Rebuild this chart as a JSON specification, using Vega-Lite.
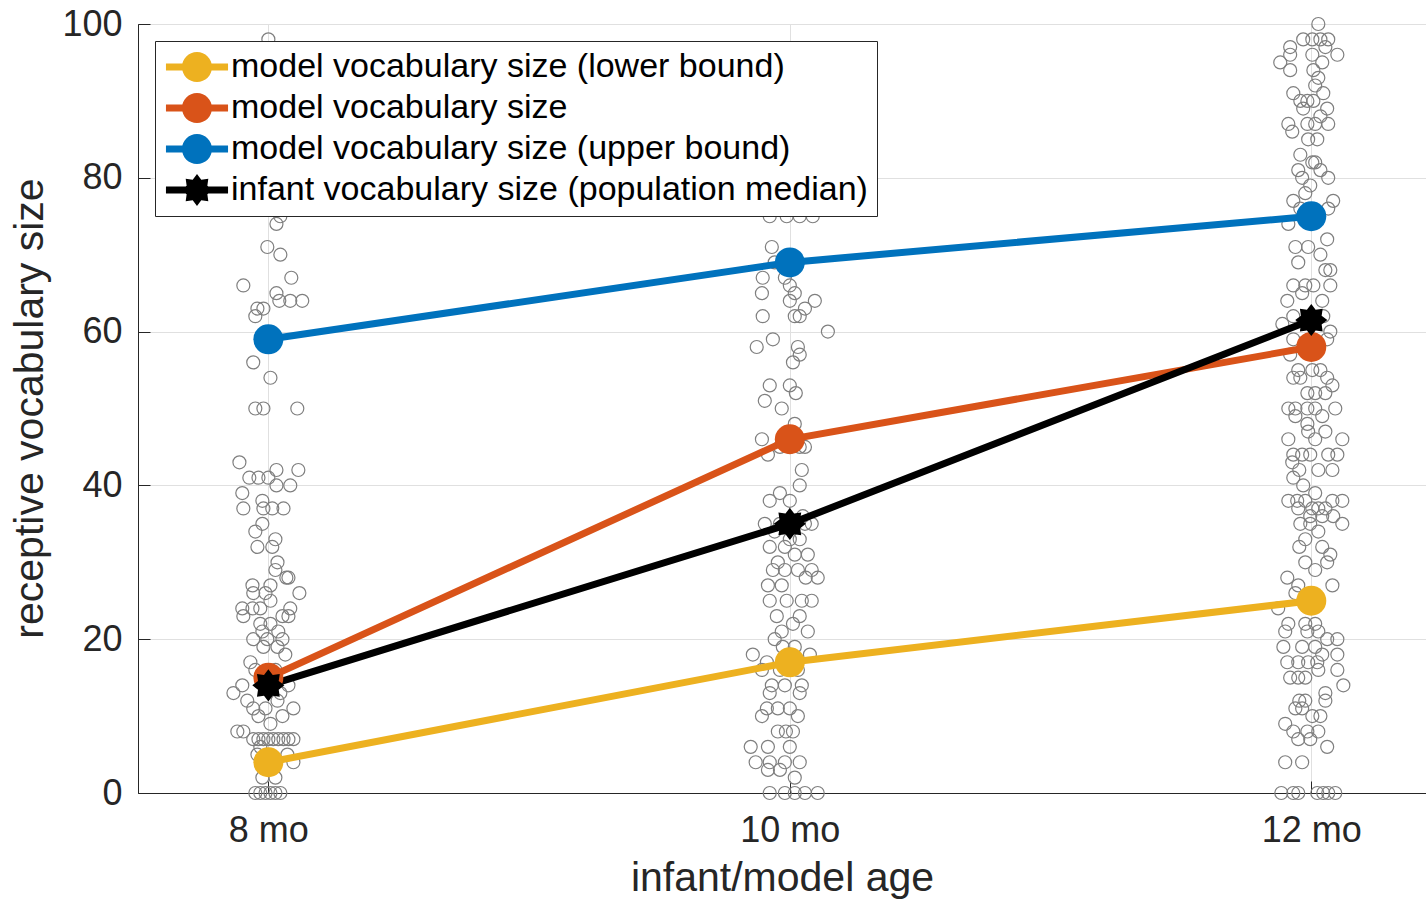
{
  "$schema": "https://vega.github.io/schema/vega-lite/v6.json",
  "width": 1288,
  "height": 769,
  "autosize": {"type": "none"},
  "padding": {"left": 138, "top": 24, "right": 0, "bottom": 108},
  "background": "white",
  "config": {
    "font": "Liberation Sans",
    "view": {"stroke": "#262626", "strokeWidth": 1},
    "axis": {
      "labelFont": "Liberation Sans",
      "titleFont": "Liberation Sans",
      "labelColor": "#262626",
      "titleColor": "#262626",
      "domainColor": "#262626",
      "tickColor": "#262626",
      "gridColor": "#e0e0e0",
      "gridWidth": 1,
      "labelFlush": false,
      "labelOverlap": false,
      "titleFontWeight": "normal"
    }
  },
  "datasets": {
    "kids": [
      {"age":8.000,"vocab":98},{"age":8.046,"vocab":75},{"age":8.096,"vocab":76},{"age":8.031,"vocab":74},{"age":7.996,"vocab":71},{"age":8.046,"vocab":70},{"age":8.088,"vocab":67},{"age":7.904,"vocab":66},{"age":8.031,"vocab":65},{"age":8.042,"vocab":64},{"age":8.084,"vocab":64},{"age":8.13,"vocab":64},{"age":7.958,"vocab":63},{"age":7.95,"vocab":62},{"age":7.981,"vocab":63},{"age":7.942,"vocab":56},{"age":8.008,"vocab":54},{"age":7.95,"vocab":50},{"age":7.981,"vocab":50},{"age":8.111,"vocab":50},{"age":7.889,"vocab":43},{"age":7.927,"vocab":41},{"age":7.962,"vocab":41},{"age":8.0,"vocab":41},{"age":8.031,"vocab":42},{"age":8.115,"vocab":42},{"age":8.031,"vocab":40},{"age":8.084,"vocab":40},{"age":7.9,"vocab":39},{"age":7.904,"vocab":37},{"age":7.977,"vocab":38},{"age":7.981,"vocab":37},{"age":8.015,"vocab":37},{"age":8.058,"vocab":37},{"age":7.977,"vocab":35},{"age":7.95,"vocab":34},{"age":8.027,"vocab":33},{"age":7.958,"vocab":32},{"age":8.015,"vocab":32},{"age":8.035,"vocab":30},{"age":8.027,"vocab":29},{"age":8.069,"vocab":28},{"age":8.077,"vocab":28},{"age":7.939,"vocab":27},{"age":8.008,"vocab":27},{"age":7.942,"vocab":26},{"age":7.989,"vocab":26},{"age":8.119,"vocab":26},{"age":7.9,"vocab":24},{"age":7.939,"vocab":24},{"age":7.969,"vocab":24},{"age":8.008,"vocab":25},{"age":8.084,"vocab":24},{"age":7.904,"vocab":23},{"age":8.054,"vocab":23},{"age":8.077,"vocab":23},{"age":7.969,"vocab":22},{"age":8.008,"vocab":22},{"age":7.977,"vocab":21},{"age":8.038,"vocab":21},{"age":7.942,"vocab":20},{"age":7.996,"vocab":20},{"age":8.054,"vocab":20},{"age":7.981,"vocab":19},{"age":8.035,"vocab":19},{"age":7.931,"vocab":17},{"age":8.065,"vocab":18},{"age":7.866,"vocab":13},{"age":7.9,"vocab":14},{"age":8.077,"vocab":14},{"age":7.919,"vocab":12},{"age":7.942,"vocab":11},{"age":7.989,"vocab":11},{"age":8.035,"vocab":12},{"age":8.096,"vocab":11},{"age":8.054,"vocab":10},{"age":7.881,"vocab":8},{"age":7.904,"vocab":8},{"age":7.942,"vocab":7},{"age":7.962,"vocab":7},{"age":7.981,"vocab":7},{"age":8.0,"vocab":7},{"age":8.019,"vocab":7},{"age":8.038,"vocab":7},{"age":8.058,"vocab":7},{"age":8.077,"vocab":7},{"age":8.096,"vocab":7},{"age":7.958,"vocab":5},{"age":8.073,"vocab":5},{"age":8.096,"vocab":4},{"age":7.95,"vocab":0},{"age":7.969,"vocab":0},{"age":7.989,"vocab":0},{"age":8.008,"vocab":0},{"age":8.027,"vocab":0},{"age":8.046,"vocab":0},{"age":7.95,"vocab":16},{"age":8.027,"vocab":16},{"age":7.977,"vocab":15},{"age":8.046,"vocab":13},{"age":7.962,"vocab":10},{"age":8.008,"vocab":9},{"age":7.969,"vocab":6},{"age":8.027,"vocab":2},{"age":7.977,"vocab":2},
      {"age":9.923,"vocab":75},{"age":9.988,"vocab":75},{"age":10.038,"vocab":75},{"age":10.088,"vocab":75},{"age":9.931,"vocab":71},{"age":9.942,"vocab":69},{"age":9.896,"vocab":67},{"age":9.981,"vocab":67},{"age":10.0,"vocab":66},{"age":9.893,"vocab":65},{"age":10.019,"vocab":65},{"age":10.0,"vocab":64},{"age":10.058,"vocab":63},{"age":10.096,"vocab":64},{"age":9.896,"vocab":62},{"age":10.019,"vocab":62},{"age":10.038,"vocab":62},{"age":10.146,"vocab":60},{"age":9.935,"vocab":59},{"age":9.873,"vocab":58},{"age":10.031,"vocab":58},{"age":10.038,"vocab":57},{"age":10.012,"vocab":56},{"age":9.923,"vocab":53},{"age":10.0,"vocab":53},{"age":10.023,"vocab":52},{"age":9.904,"vocab":51},{"age":9.969,"vocab":50},{"age":10.019,"vocab":48},{"age":9.893,"vocab":46},{"age":9.962,"vocab":45},{"age":10.0,"vocab":45},{"age":10.038,"vocab":45},{"age":10.058,"vocab":45},{"age":9.916,"vocab":44},{"age":10.046,"vocab":42},{"age":10.038,"vocab":40},{"age":9.962,"vocab":39},{"age":9.923,"vocab":38},{"age":10.0,"vocab":38},{"age":10.05,"vocab":36},{"age":9.904,"vocab":35},{"age":9.962,"vocab":35},{"age":10.019,"vocab":35},{"age":10.058,"vocab":35},{"age":10.084,"vocab":35},{"age":9.942,"vocab":34},{"age":10.0,"vocab":33},{"age":10.038,"vocab":33},{"age":9.923,"vocab":32},{"age":9.981,"vocab":32},{"age":9.954,"vocab":30},{"age":10.019,"vocab":31},{"age":10.069,"vocab":31},{"age":9.935,"vocab":29},{"age":9.981,"vocab":29},{"age":10.031,"vocab":29},{"age":10.084,"vocab":29},{"age":9.916,"vocab":27},{"age":9.969,"vocab":27},{"age":10.061,"vocab":28},{"age":10.107,"vocab":28},{"age":9.923,"vocab":25},{"age":9.988,"vocab":25},{"age":10.046,"vocab":25},{"age":10.084,"vocab":25},{"age":9.95,"vocab":23},{"age":10.038,"vocab":23},{"age":9.969,"vocab":21},{"age":10.012,"vocab":22},{"age":10.069,"vocab":21},{"age":9.942,"vocab":20},{"age":9.973,"vocab":19},{"age":10.019,"vocab":19},{"age":10.0,"vocab":18},{"age":10.077,"vocab":18},{"age":9.858,"vocab":18},{"age":9.912,"vocab":17},{"age":9.893,"vocab":16},{"age":9.962,"vocab":16},{"age":10.031,"vocab":16},{"age":9.931,"vocab":14},{"age":9.981,"vocab":14},{"age":10.046,"vocab":14},{"age":9.923,"vocab":13},{"age":10.038,"vocab":13},{"age":9.954,"vocab":11},{"age":9.912,"vocab":11},{"age":10.0,"vocab":11},{"age":9.893,"vocab":10},{"age":10.031,"vocab":10},{"age":9.954,"vocab":8},{"age":9.985,"vocab":8},{"age":10.012,"vocab":8},{"age":9.85,"vocab":6},{"age":9.916,"vocab":6},{"age":10.0,"vocab":6},{"age":9.869,"vocab":4},{"age":9.923,"vocab":4},{"age":9.981,"vocab":4},{"age":10.038,"vocab":4},{"age":9.916,"vocab":3},{"age":9.962,"vocab":3},{"age":10.019,"vocab":2},{"age":9.923,"vocab":0},{"age":9.981,"vocab":0},{"age":10.019,"vocab":0},{"age":10.058,"vocab":0},{"age":10.107,"vocab":0},
      {"age":12.027,"vocab":100},{"age":11.969,"vocab":98},{"age":12.004,"vocab":98},{"age":12.035,"vocab":98},{"age":12.065,"vocab":98},{"age":11.919,"vocab":97},{"age":12.054,"vocab":97},{"age":12.1,"vocab":96},{"age":11.881,"vocab":95},{"age":11.919,"vocab":96},{"age":12.004,"vocab":96},{"age":12.042,"vocab":95},{"age":11.919,"vocab":94},{"age":12.008,"vocab":94},{"age":12.027,"vocab":93},{"age":12.015,"vocab":92},{"age":11.931,"vocab":91},{"age":12.046,"vocab":91},{"age":11.958,"vocab":90},{"age":11.985,"vocab":90},{"age":12.008,"vocab":90},{"age":11.969,"vocab":89},{"age":12.061,"vocab":89},{"age":12.035,"vocab":88},{"age":11.912,"vocab":87},{"age":11.927,"vocab":86},{"age":11.985,"vocab":87},{"age":12.015,"vocab":87},{"age":12.065,"vocab":87},{"age":11.988,"vocab":85},{"age":12.023,"vocab":85},{"age":11.958,"vocab":83},{"age":12.004,"vocab":82},{"age":12.015,"vocab":82},{"age":11.95,"vocab":81},{"age":12.035,"vocab":81},{"age":12.065,"vocab":80},{"age":11.965,"vocab":80},{"age":11.996,"vocab":79},{"age":11.931,"vocab":77},{"age":11.977,"vocab":78},{"age":12.084,"vocab":77},{"age":12.065,"vocab":76},{"age":11.958,"vocab":76},{"age":11.912,"vocab":74},{"age":12.061,"vocab":72},{"age":11.939,"vocab":71},{"age":11.988,"vocab":71},{"age":12.035,"vocab":70},{"age":11.95,"vocab":69},{"age":12.054,"vocab":68},{"age":12.073,"vocab":68},{"age":11.931,"vocab":66},{"age":11.977,"vocab":66},{"age":12.008,"vocab":66},{"age":12.073,"vocab":66},{"age":11.965,"vocab":65},{"age":11.908,"vocab":64},{"age":12.042,"vocab":64},{"age":11.931,"vocab":62},{"age":12.046,"vocab":62},{"age":11.889,"vocab":61},{"age":12.073,"vocab":60},{"age":11.931,"vocab":59},{"age":12.061,"vocab":59},{"age":11.919,"vocab":57},{"age":11.95,"vocab":55},{"age":12.004,"vocab":55},{"age":12.035,"vocab":55},{"age":11.931,"vocab":54},{"age":11.958,"vocab":54},{"age":12.061,"vocab":54},{"age":12.081,"vocab":53},{"age":11.985,"vocab":52},{"age":12.015,"vocab":52},{"age":12.054,"vocab":52},{"age":11.912,"vocab":50},{"age":11.939,"vocab":50},{"age":11.985,"vocab":50},{"age":12.015,"vocab":50},{"age":12.092,"vocab":50},{"age":11.939,"vocab":49},{"age":12.042,"vocab":49},{"age":11.985,"vocab":48},{"age":11.912,"vocab":46},{"age":12.119,"vocab":46},{"age":11.988,"vocab":47},{"age":12.054,"vocab":47},{"age":12.015,"vocab":46},{"age":11.931,"vocab":44},{"age":11.965,"vocab":44},{"age":11.996,"vocab":44},{"age":12.065,"vocab":44},{"age":12.1,"vocab":44},{"age":11.927,"vocab":43},{"age":11.954,"vocab":42},{"age":12.027,"vocab":42},{"age":12.081,"vocab":42},{"age":11.931,"vocab":41},{"age":11.969,"vocab":40},{"age":12.015,"vocab":39},{"age":11.912,"vocab":38},{"age":11.946,"vocab":38},{"age":11.977,"vocab":38},{"age":12.004,"vocab":37},{"age":12.027,"vocab":37},{"age":12.054,"vocab":37},{"age":12.081,"vocab":38},{"age":12.119,"vocab":38},{"age":11.95,"vocab":37},{"age":11.996,"vocab":36},{"age":12.042,"vocab":36},{"age":12.084,"vocab":36},{"age":12.119,"vocab":35},{"age":11.958,"vocab":35},{"age":11.996,"vocab":35},{"age":12.027,"vocab":34},{"age":11.977,"vocab":33},{"age":11.954,"vocab":32},{"age":12.042,"vocab":32},{"age":12.073,"vocab":31},{"age":11.977,"vocab":30},{"age":12.061,"vocab":30},{"age":12.015,"vocab":29},{"age":11.908,"vocab":28},{"age":11.95,"vocab":27},{"age":12.081,"vocab":27},{"age":11.939,"vocab":26},{"age":11.873,"vocab":24},{"age":11.912,"vocab":22},{"age":11.977,"vocab":22},{"age":12.015,"vocab":22},{"age":11.9,"vocab":21},{"age":11.985,"vocab":21},{"age":12.027,"vocab":21},{"age":12.061,"vocab":20},{"age":12.1,"vocab":20},{"age":11.893,"vocab":19},{"age":11.965,"vocab":19},{"age":12.015,"vocab":19},{"age":12.042,"vocab":18},{"age":12.1,"vocab":18},{"age":11.908,"vocab":17},{"age":11.95,"vocab":17},{"age":11.988,"vocab":17},{"age":12.023,"vocab":17},{"age":11.919,"vocab":15},{"age":11.95,"vocab":15},{"age":11.977,"vocab":15},{"age":12.027,"vocab":16},{"age":12.1,"vocab":16},{"age":12.123,"vocab":14},{"age":12.054,"vocab":13},{"age":11.954,"vocab":12},{"age":11.977,"vocab":12},{"age":12.054,"vocab":12},{"age":11.939,"vocab":11},{"age":11.965,"vocab":11},{"age":12.004,"vocab":10},{"age":12.035,"vocab":10},{"age":11.9,"vocab":9},{"age":11.931,"vocab":8},{"age":11.985,"vocab":8},{"age":12.027,"vocab":8},{"age":11.95,"vocab":7},{"age":11.996,"vocab":7},{"age":12.061,"vocab":6},{"age":11.9,"vocab":4},{"age":11.965,"vocab":4},{"age":11.885,"vocab":0},{"age":11.931,"vocab":0},{"age":11.95,"vocab":0},{"age":12.023,"vocab":0},{"age":12.046,"vocab":0},{"age":12.065,"vocab":0},{"age":12.092,"vocab":0}
    ],
    "model": [
      {"series":"model vocabulary size (lower bound)","age":8,"vocab":4},
      {"series":"model vocabulary size (lower bound)","age":10,"vocab":17},
      {"series":"model vocabulary size (lower bound)","age":12,"vocab":25},
      {"series":"model vocabulary size","age":8,"vocab":15},
      {"series":"model vocabulary size","age":10,"vocab":46},
      {"series":"model vocabulary size","age":12,"vocab":58},
      {"series":"model vocabulary size (upper bound)","age":8,"vocab":59},
      {"series":"model vocabulary size (upper bound)","age":10,"vocab":69},
      {"series":"model vocabulary size (upper bound)","age":12,"vocab":75},
      {"series":"infant vocabulary size (population median)","age":8,"vocab":14},
      {"series":"infant vocabulary size (population median)","age":10,"vocab":35},
      {"series":"infant vocabulary size (population median)","age":12,"vocab":61.5}
    ]
  },
  "layer": [
    {
      "data": {"name": "kids"},
      "mark": {"type": "point", "filled": false, "stroke": "#7f7f7f", "strokeWidth": 1.2, "size": 169, "opacity": 1},
      "encoding": {
        "x": {"field": "age", "type": "quantitative", "scale": {"domain": [7.5, 12.44], "nice": false, "zero": false},
          "axis": {"values": [8, 10, 12], "labelExpr": "datum.value + ' mo'", "grid": true, "tickSize": -12, "labelPadding": 32, "labelFontSize": 36,
            "title": "infant/model age", "titleFontSize": 41, "titleY": 97, "titleBaseline": "alphabetic"}},
        "y": {"field": "vocab", "type": "quantitative", "scale": {"domain": [0, 100], "nice": false},
          "axis": {"values": [0, 20, 40, 60, 80, 100], "grid": true, "tickSize": -12, "labelPadding": 28, "labelFontSize": 36,
            "title": "receptive vocabulary size", "titleFontSize": 41, "titleAngle": -90, "titleX": -96, "titleY": 384, "titleBaseline": "alphabetic", "titleAlign": "center"}}
      }
    },
    {
      "data": {"name": "model"},
      "mark": {"type": "line", "strokeWidth": 7},
      "encoding": {
        "x": {"field": "age", "type": "quantitative"},
        "y": {"field": "vocab", "type": "quantitative"},
        "color": {"field": "series", "type": "nominal",
          "scale": {"domain": ["model vocabulary size (lower bound)", "model vocabulary size", "model vocabulary size (upper bound)", "infant vocabulary size (population median)"],
                    "range": ["#EDB120", "#D95319", "#0072BD", "#000000"]},
          "legend": {"orient": "top-left", "offset": 17, "title": null, "labelFontSize": 34, "labelFont": "Liberation Sans", "labelColor": "#000000",
            "symbolSize": 1024, "labelOffset": 33, "padding": 9, "rowPadding": 7, "strokeColor": "#262626", "fillColor": "white", "cornerRadius": 0, "labelLimit": 1000,
            "encode": {"symbols": {"update": {
              "shape": {"signal": "datum.value === 'infant vocabulary size (population median)' ? 'M-0.94,-0.22H0.3V0.22H-0.94Z M1.7,-0.22H2.94V0.22H1.7Z M2,0L1.647,0.268L1.707,0.707L1.268,0.647L1,1L0.732,0.647L0.293,0.707L0.353,0.268L0,0L0.353,-0.268L0.293,-0.707L0.732,-0.647L1,-1L1.268,-0.647L1.707,-0.707L1.647,-0.268Z' : 'M-0.94,-0.22H0.2V0.22H-0.94Z M1.8,-0.22H2.94V0.22H1.8Z M0.06,0A0.94,0.94 0 1 1 1.94,0A0.94,0.94 0 1 1 0.06,0Z'"},
              "fill": {"scale": "color", "field": "value"},
              "stroke": {"value": "transparent"},
              "strokeWidth": {"value": 0},
              "opacity": {"value": 1},
              "fillOpacity": {"value": 1}
            }}}}
        }
      }
    },
    {
      "data": {"name": "model"},
      "transform": [{"filter": "datum.series !== 'infant vocabulary size (population median)'"}],
      "mark": {"type": "point", "filled": true, "opacity": 1, "size": 900, "shape": "circle"},
      "encoding": {
        "x": {"field": "age", "type": "quantitative"},
        "y": {"field": "vocab", "type": "quantitative"},
        "color": {"field": "series", "type": "nominal"}
      }
    },
    {
      "data": {"name": "model"},
      "transform": [{"filter": "datum.series === 'infant vocabulary size (population median)'"}],
      "mark": {"type": "point", "filled": true, "opacity": 1, "size": 900, "shape": "M1.07,0L0.69,0.29L0.76,0.76L0.29,0.69L0,1.07L-0.29,0.69L-0.76,0.76L-0.69,0.29L-1.07,0L-0.69,-0.29L-0.76,-0.76L-0.29,-0.69L0,-1.07L0.29,-0.69L0.76,-0.76L0.69,-0.29Z"},
      "encoding": {
        "x": {"field": "age", "type": "quantitative"},
        "y": {"field": "vocab", "type": "quantitative"},
        "color": {"field": "series", "type": "nominal"}
      }
    }
  ]
}
